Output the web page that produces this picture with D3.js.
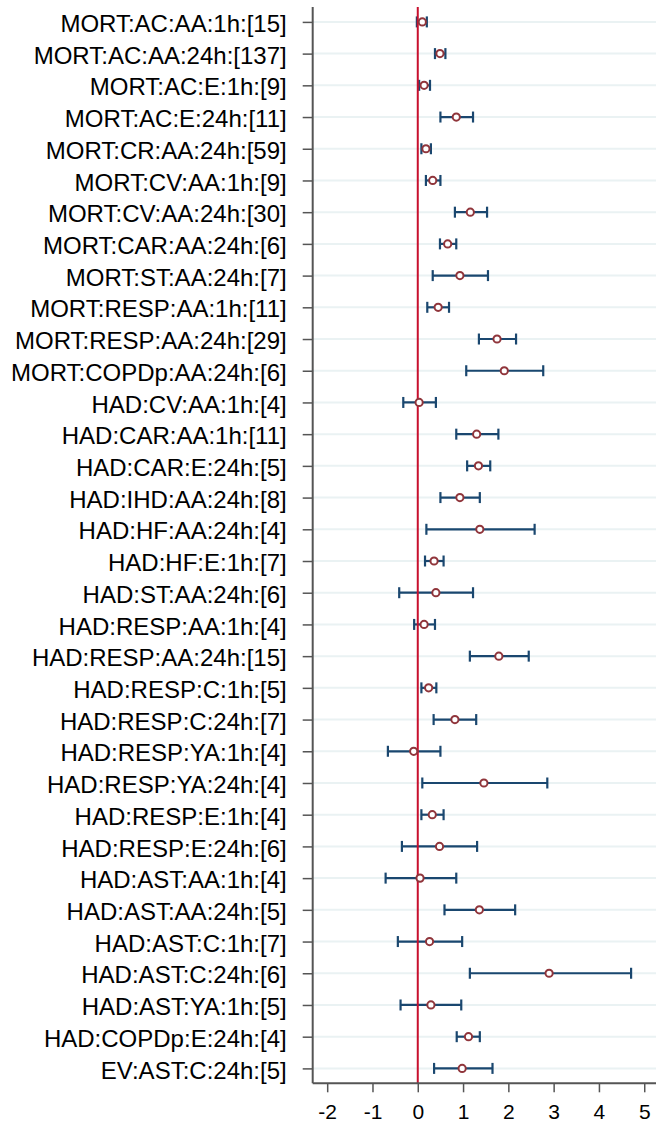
<!DOCTYPE html>
<html>
<head>
<meta charset="utf-8">
<script src="https://cdn.jsdelivr.net/npm/d3@7"></script>
<style>
  html, body { margin: 0; padding: 0; background: #ffffff; }
  svg { display: block; }
  text { font-family: "Liberation Sans", Arial, sans-serif; fill: #000; }
</style>
</head>
<body>
<svg id="chart" width="656" height="1124"></svg>
<script>
// Outcome labels (outcome:cause:age group:lag:[number of studies])
const labels = [
  "MORT:AC:AA:1h:[15]", "MORT:AC:AA:24h:[137]", "MORT:AC:E:1h:[9]", "MORT:AC:E:24h:[11]",
  "MORT:CR:AA:24h:[59]", "MORT:CV:AA:1h:[9]", "MORT:CV:AA:24h:[30]", "MORT:CAR:AA:24h:[6]",
  "MORT:ST:AA:24h:[7]", "MORT:RESP:AA:1h:[11]", "MORT:RESP:AA:24h:[29]", "MORT:COPDp:AA:24h:[6]",
  "HAD:CV:AA:1h:[4]", "HAD:CAR:AA:1h:[11]", "HAD:CAR:E:24h:[5]", "HAD:IHD:AA:24h:[8]",
  "HAD:HF:AA:24h:[4]", "HAD:HF:E:1h:[7]", "HAD:ST:AA:24h:[6]", "HAD:RESP:AA:1h:[4]",
  "HAD:RESP:AA:24h:[15]", "HAD:RESP:C:1h:[5]", "HAD:RESP:C:24h:[7]", "HAD:RESP:YA:1h:[4]",
  "HAD:RESP:YA:24h:[4]", "HAD:RESP:E:1h:[4]", "HAD:RESP:E:24h:[6]", "HAD:AST:AA:1h:[4]",
  "HAD:AST:AA:24h:[5]", "HAD:AST:C:1h:[7]", "HAD:AST:C:24h:[6]", "HAD:AST:YA:1h:[5]",
  "HAD:COPDp:E:24h:[4]", "EV:AST:C:24h:[5]"
];

// Pooled estimates
const estimate = [
  0.10, 0.49, 0.14, 0.85, 0.18, 0.33, 1.16, 0.66, 0.93, 0.45, 1.75, 1.91,
  0.03, 1.30, 1.34, 0.93, 1.37, 0.36, 0.40, 0.14, 1.79, 0.24, 0.82, -0.09,
  1.46, 0.32, 0.48, 0.05, 1.36, 0.26, 2.90, 0.29, 1.12, 0.98
];

// Lower confidence limits
const lower = [
  -0.02, 0.38, 0.03, 0.50, 0.08, 0.18, 0.82, 0.49, 0.33, 0.21, 1.35, 1.07,
  -0.32, 0.85, 1.09, 0.50, 0.19, 0.16, -0.41, -0.08, 1.15, 0.08, 0.35, -0.66,
  0.10, 0.08, -0.35, -0.71, 0.59, -0.44, 1.15, -0.38, 0.86, 0.36
];

// Upper confidence limits
const upper = [
  0.20, 0.61, 0.27, 1.22, 0.29, 0.50, 1.53, 0.85, 1.55, 0.69, 2.17, 2.77,
  0.40, 1.78, 1.60, 1.37, 2.58, 0.57, 1.22, 0.38, 2.45, 0.41, 1.29, 0.50,
  2.86, 0.57, 1.31, 0.85, 2.15, 0.98, 4.71, 0.96, 1.37, 1.65
];

const xTicks = [-2, -1, 0, 1, 2, 3, 4, 5];
const xDomain = [-2.32, 5.26];

const rows = labels.map((label, i) => ({
  label, est: estimate[i], lo: lower[i], hi: upper[i]
}));

const svg = d3.select("#chart");
const plot = { left: 312.7, right: 656, top: 7, bottom: 1083.3 };

const x = d3.scaleLinear().domain(xDomain).range([plot.left, plot.right]);
const y = d3.scalePoint().domain(labels).range([plot.top, plot.bottom]).padding(0.47);

const navy = "#1a476f";
const maroon = "#90353b";
const axisGrey = "#555555";

// Horizontal grid lines at each row
svg.append("g")
  .selectAll("line")
  .data(labels)
  .join("line")
  .attr("x1", plot.left).attr("x2", plot.right)
  .attr("y1", d => y(d)).attr("y2", d => y(d))
  .attr("stroke", "#eaf2f3")
  .attr("stroke-width", 2);

// Confidence intervals with end caps
const ci = svg.append("g").attr("stroke", navy).attr("stroke-width", 2.2).attr("fill", "none");
ci.selectAll("line.bar").data(rows).join("line").attr("class", "bar")
  .attr("x1", d => x(d.lo)).attr("x2", d => x(d.hi))
  .attr("y1", d => y(d.label)).attr("y2", d => y(d.label));
ci.selectAll("line.capl").data(rows).join("line").attr("class", "capl")
  .attr("x1", d => x(d.lo)).attr("x2", d => x(d.lo))
  .attr("y1", d => y(d.label) - 5.5).attr("y2", d => y(d.label) + 5.5);
ci.selectAll("line.caph").data(rows).join("line").attr("class", "caph")
  .attr("x1", d => x(d.hi)).attr("x2", d => x(d.hi))
  .attr("y1", d => y(d.label) - 5.5).attr("y2", d => y(d.label) + 5.5);

// Reference line at zero
svg.append("line")
  .attr("x1", x(0)).attr("x2", x(0))
  .attr("y1", plot.top).attr("y2", plot.bottom)
  .attr("stroke", "#c8102e")
  .attr("stroke-width", 2);

// Point estimates
svg.append("g")
  .selectAll("circle")
  .data(rows)
  .join("circle")
  .attr("cx", d => x(d.est))
  .attr("cy", d => y(d.label))
  .attr("r", 3.6)
  .attr("fill", "#ffffff")
  .attr("stroke", maroon)
  .attr("stroke-width", 2);

// Y axis
const yAxis = svg.append("g")
  .attr("transform", `translate(${plot.left},0)`)
  .call(d3.axisLeft(y).tickSize(10).tickPadding(16));
yAxis.select(".domain").attr("stroke", axisGrey).attr("stroke-width", 2)
  .attr("d", `M0,${plot.top}V${plot.bottom}`);
yAxis.selectAll(".tick line").attr("stroke", axisGrey).attr("stroke-width", 1.5);
yAxis.selectAll(".tick text")
  .attr("font-size", 24)
  .attr("font-family", "Liberation Sans, Arial, sans-serif")
  .attr("fill", "#000")
  .attr("dy", "0.4em");

// X axis
const xAxis = svg.append("g")
  .attr("transform", `translate(0,${plot.bottom})`)
  .call(d3.axisBottom(x).tickValues(xTicks).tickFormat(d3.format("d")).tickSize(9).tickPadding(12));
xAxis.select(".domain").attr("stroke", axisGrey).attr("stroke-width", 2)
  .attr("d", `M${plot.left},0H${plot.right}`);
xAxis.selectAll(".tick line").attr("stroke", axisGrey).attr("stroke-width", 1.5);
xAxis.selectAll(".tick text")
  .attr("font-size", 21)
  .attr("font-family", "Liberation Sans, Arial, sans-serif")
  .attr("fill", "#000")
  .text(d => d < 0 ? "-" + Math.abs(d) : String(d));
</script>
</body>
</html>
